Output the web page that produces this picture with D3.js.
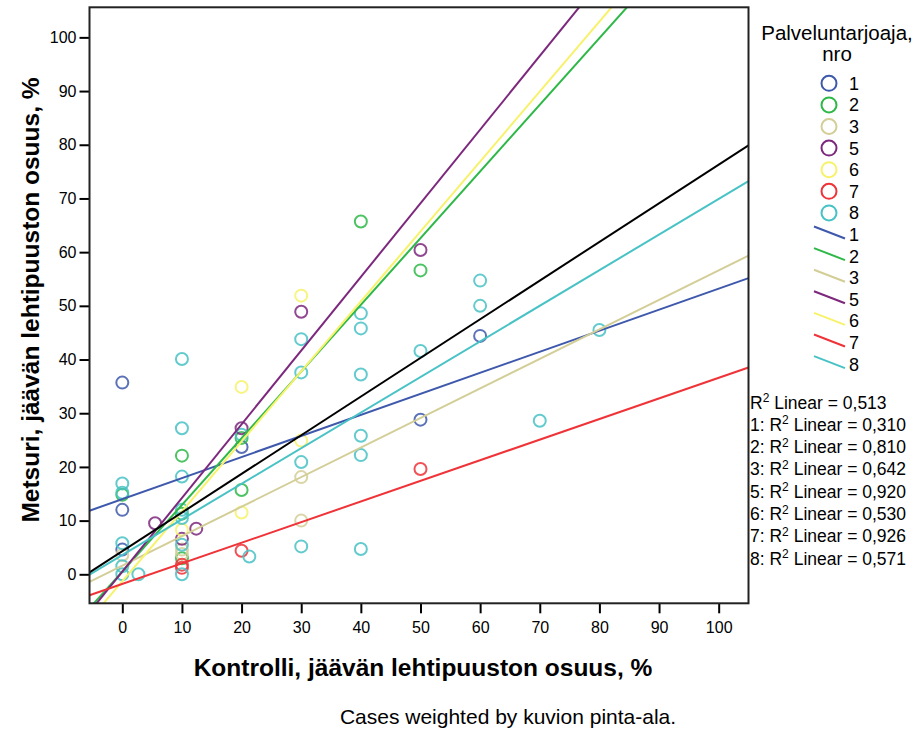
<!DOCTYPE html>
<html>
<head>
<meta charset="utf-8">
<script src="https://cdn.jsdelivr.net/npm/d3@7"></script>
<style>
  body { margin: 0; background: #fff; }
  text { font-family: Arial, "Liberation Sans", sans-serif; fill: #000; }
</style>
</head>
<body>
<svg id="chart" width="920" height="729"></svg>
<script>
// Provider groups and their colours
const groups = ["1", "2", "3", "5", "6", "7", "8"];
const groupColors = ["#3e58ac", "#2eb848", "#d3ce97", "#7c287d", "#f7f26a", "#ef3338", "#48c2c5"];

// Observations per provider: [Kontrolli %, Metsuri %]
const pointsG1 = [[0, 35.7], [0, 12.0], [0, 4.6], [20, 23.7], [50, 28.8], [60, 44.4]];
const pointsG2 = [[0, 14.8], [10, 22.1], [10, 11.3], [10, 3.0], [20, 25.4], [20, 15.7], [40, 65.7], [50, 56.6]];
const pointsG3 = [[0, 3.6], [10, 4.6], [10, 3.8], [30, 18.1], [30, 10.0]];
const pointsG5 = [[5.5, 9.5], [10, 6.6], [12.4, 8.5], [20, 27.2], [30, 48.9], [50, 60.4]];
const pointsG6 = [[10, 8.3], [20, 34.9], [20, 11.5], [30, 51.9], [30, 24.9]];
const pointsG7 = [[10, 1.8], [10, 1.2], [20, 4.4], [50, 19.6]];
const pointsG8 = [[0, 16.9], [0, 15.2], [0, 5.8], [0, 1.5], [0, 0], [2.7, 0],
  [10, 40.1], [10, 27.2], [10, 18.2], [10, 12.0], [10, 10.5], [10, 5.5], [10, 0],
  [20, 26.0], [21.3, 3.3], [30, 43.8], [30, 37.6], [30, 20.9], [30, 5.2],
  [40, 48.6], [40, 45.8], [40, 37.2], [40, 25.8], [40, 22.2], [40, 4.7],
  [50, 41.6], [60, 54.7], [60, 50.0], [70, 28.6], [80, 45.5]];
const groupPoints = [pointsG1, pointsG2, pointsG3, pointsG5, pointsG6, pointsG7, pointsG8];

// Linear fit lines (intercept, slope) per provider and for all cases
const fitIntercept = [14.0, 0.5, 1.6, 0.5, -1.3, -1.8, 3.6];
const fitSlope = [0.392, 1.242, 0.55, 1.372, 1.303, 0.384, 0.663];
const totalIntercept = 4.3;
const totalSlope = 0.72;

// R² values
const r2Total = "0,513";
const r2Groups = ["0,310", "0,810", "0,642", "0,920", "0,530", "0,926", "0,571"];

const xTicks = [0, 10, 20, 30, 40, 50, 60, 70, 80, 90, 100];
const yTicks = [0, 10, 20, 30, 40, 50, 60, 70, 80, 90, 100];

const svg = d3.select("#chart");
const plot = { left: 89.5, right: 748.5, top: 7.3, bottom: 603.3 };

const x = d3.scaleLinear().domain([-5.5, 105]).range([plot.left, plot.right]);
const y = d3.scaleLinear().domain([-5.4, 105.6]).range([plot.bottom, plot.top]);

svg.append("defs").append("clipPath").attr("id", "plotClip")
  .append("rect")
  .attr("x", plot.left).attr("y", plot.top)
  .attr("width", plot.right - plot.left).attr("height", plot.bottom - plot.top);

// Axes
const yAxis = svg.append("g")
  .attr("transform", `translate(${plot.left},0)`)
  .call(d3.axisLeft(y).tickValues(yTicks).tickSize(10).tickPadding(3));
const xAxis = svg.append("g")
  .attr("transform", `translate(0,${plot.bottom})`)
  .call(d3.axisBottom(x).tickValues(xTicks).tickSize(10).tickPadding(8));
[xAxis, yAxis].forEach(g => {
  g.select(".domain").remove();
  g.selectAll(".tick line").attr("stroke", "#000").attr("stroke-width", 2);
  g.selectAll(".tick text").style("font-size", "16px").attr("fill", "#111");
});

// Points
const pointLayer = svg.append("g").attr("clip-path", "url(#plotClip)");
groupPoints.forEach((pts, i) => {
  pointLayer.selectAll(null).data(pts).enter().append("circle")
    .attr("cx", d => x(d[0]))
    .attr("cy", d => y(d[1]))
    .attr("r", 6)
    .attr("fill", "none")
    .attr("stroke", groupColors[i])
    .attr("stroke-width", 2)
    .attr("stroke-opacity", 0.85);
});

// Fit lines
const lineLayer = svg.append("g").attr("clip-path", "url(#plotClip)");
const xDom = x.domain();
const line = d3.line().x(d => x(d[0])).y(d => y(d[1]));
function fitLine(a, b, color) {
  lineLayer.append("path")
    .attr("d", line([[xDom[0], a + b * xDom[0]], [xDom[1], a + b * xDom[1]]]))
    .attr("fill", "none")
    .attr("stroke", color)
    .attr("stroke-width", 2);
}
groups.forEach((g, i) => fitLine(fitIntercept[i], fitSlope[i], groupColors[i]));
fitLine(totalIntercept, totalSlope, "#000");

// Frame
svg.append("rect")
  .attr("x", plot.left).attr("y", plot.top)
  .attr("width", plot.right - plot.left).attr("height", plot.bottom - plot.top)
  .attr("fill", "none").attr("stroke", "#222").attr("stroke-width", 2);

// Axis titles
svg.append("text")
  .attr("x", 423).attr("y", 676)
  .attr("text-anchor", "middle")
  .style("font-size", "24.5px").style("font-weight", "bold")
  .text("Kontrolli, jäävän lehtipuuston osuus, %");
svg.append("text")
  .attr("transform", "translate(39,300) rotate(-90)")
  .attr("text-anchor", "middle")
  .style("font-size", "24.5px").style("font-weight", "bold")
  .text("Metsuri, jäävän lehtipuuston osuus, %");

// Caption
svg.append("text")
  .attr("x", 508).attr("y", 724)
  .attr("text-anchor", "middle")
  .style("font-size", "21px")
  .text("Cases weighted by kuvion pinta-ala.");

// Legend
const legend = svg.append("g");
legend.append("text").attr("x", 837).attr("y", 40).attr("text-anchor", "middle")
  .style("font-size", "20.5px").text("Palveluntarjoaja,");
legend.append("text").attr("x", 837).attr("y", 61).attr("text-anchor", "middle")
  .style("font-size", "20.5px").text("nro");

const rowStep = 21.6;
groups.forEach((g, i) => {
  const cy = 83.3 + i * rowStep;
  legend.append("circle").attr("cx", 829).attr("cy", cy).attr("r", 7.5)
    .attr("fill", "none").attr("stroke", groupColors[i]).attr("stroke-width", 2);
  legend.append("text").attr("x", 849).attr("y", cy + 6.5)
    .style("font-size", "18px").text(g);
});
groups.forEach((g, i) => {
  const cy = 83.3 + (i + 7) * rowStep;
  legend.append("line")
    .attr("x1", 814).attr("y1", cy - 8).attr("x2", 845).attr("y2", cy + 4)
    .attr("stroke", groupColors[i]).attr("stroke-width", 2);
  legend.append("text").attr("x", 849).attr("y", cy + 6.5)
    .style("font-size", "18px").text(g);
});

// R² annotations
const r2Rows = [{ prefix: "", val: r2Total }].concat(groups.map((g, i) => ({ prefix: g + ": ", val: r2Groups[i] })));
r2Rows.forEach((r, i) => {
  const t = svg.append("text").attr("x", 750).attr("y", 408.5 + i * 22.3)
    .style("font-size", "17.5px");
  t.append("tspan").text(r.prefix + "R");
  t.append("tspan").attr("dy", -6.5).style("font-size", "12px").text("2");
  t.append("tspan").attr("dy", 6.5).text(" Linear = " + r.val);
});
</script>
</body>
</html>
